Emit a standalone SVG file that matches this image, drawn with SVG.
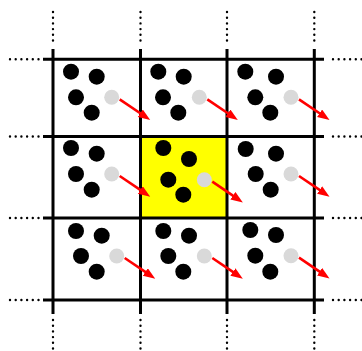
<svg xmlns="http://www.w3.org/2000/svg" width="362" height="351" viewBox="0 0 362 351">
<defs>
<style>
.grid{stroke:#000;stroke-width:3;fill:none}
.dots{stroke:#000;stroke-width:2.4;stroke-linecap:round;stroke-dasharray:0 5.7;fill:none}
.b{fill:#000}
.g{fill:#d9d9d9}
.arr{stroke:#ff0000;stroke-width:2.6;fill:none}
</style>
<marker id="ah" markerUnits="userSpaceOnUse" markerWidth="13" markerHeight="10" refX="4" refY="4.5" orient="auto">
<path d="M0,0 L12,4.5 L0,9 z" fill="#ff0000"/>
</marker>
</defs>
<rect width="362" height="351" fill="#fff"/>
<rect x="140.5" y="136.5" width="86.5" height="81.5" fill="#ffff00"/>
<g id="grid">
<path class="grid" d="M53,49V314M140.5,49V314M227,49V314M314.3,49V314M43,59.3H324M43,136.5H324M43,218H324M43,300H324"/>
<path class="dots" d="M53,12V42M140.5,12V42M227,12V42M314.3,12V42M53,320V350M140.5,320V350M227,320V350M314.3,320V350M10,59.3H39M10,136.5H39M10,218H39M10,300H39M333,59.3H362M333,136.5H362M333,218H362M333,300H362"/>
</g>
<g id="cell-tl"><circle class="b" cx="71" cy="71.7" r="8"/><circle class="b" cx="96.7" cy="76.7" r="8"/><circle class="b" cx="76" cy="97.3" r="8"/><circle class="b" cx="91.7" cy="112.7" r="8"/><circle class="g" cx="111.7" cy="97.3" r="7.5"/></g>
<g id="cell-tm"><circle class="b" cx="158.3" cy="71.7" r="8"/><circle class="b" cx="183.7" cy="76.7" r="8"/><circle class="b" cx="163" cy="97.3" r="8"/><circle class="b" cx="178.3" cy="112.7" r="8"/><circle class="g" cx="199.3" cy="97.3" r="7.5"/></g>
<g id="cell-tr"><circle class="b" cx="245.3" cy="71.7" r="8"/><circle class="b" cx="276" cy="76.7" r="8"/><circle class="b" cx="255.3" cy="97.3" r="8"/><circle class="b" cx="270.3" cy="112.7" r="8"/><circle class="g" cx="291" cy="97.3" r="7.5"/></g>
<g id="cell-ml"><circle class="b" cx="71" cy="148" r="8"/><circle class="b" cx="96.7" cy="153.7" r="8"/><circle class="b" cx="76" cy="174" r="8"/><circle class="b" cx="91.7" cy="189.7" r="8"/><circle class="g" cx="111.7" cy="174" r="7.5"/></g>
<g id="cell-mm"><circle class="b" cx="163.3" cy="148" r="8"/><circle class="b" cx="189" cy="159" r="8"/><circle class="b" cx="168.3" cy="179.7" r="8"/><circle class="b" cx="183.3" cy="194.7" r="8"/><circle class="g" cx="204.3" cy="179.7" r="7.5"/></g>
<g id="cell-mr"><circle class="b" cx="245.7" cy="149" r="8"/><circle class="b" cx="276" cy="153.7" r="8"/><circle class="b" cx="255.7" cy="174" r="8"/><circle class="b" cx="270.7" cy="189.7" r="8"/><circle class="g" cx="291" cy="174" r="7.5"/></g>
<g id="cell-bl"><circle class="b" cx="76" cy="231" r="8"/><circle class="b" cx="101.7" cy="235.7" r="8"/><circle class="b" cx="81" cy="256" r="8"/><circle class="b" cx="96.7" cy="271.7" r="8"/><circle class="g" cx="116.7" cy="256" r="7.5"/></g>
<g id="cell-bm"><circle class="b" cx="163.3" cy="231" r="8"/><circle class="b" cx="189" cy="235.7" r="8"/><circle class="b" cx="168.3" cy="256" r="8"/><circle class="b" cx="183.3" cy="271.7" r="8"/><circle class="g" cx="204.3" cy="256" r="7.5"/></g>
<g id="cell-br"><circle class="b" cx="250.3" cy="230" r="8"/><circle class="b" cx="276" cy="235" r="8"/><circle class="b" cx="255.3" cy="255.7" r="8"/><circle class="b" cx="270.3" cy="271.7" r="8"/><circle class="g" cx="291" cy="255.7" r="7.5"/></g>
<g id="connectors">
<line class="arr" marker-end="url(#ah)" x1="119.7" y1="99.3" x2="143.6" y2="115.5"/>
<line class="arr" marker-end="url(#ah)" x1="207.3" y1="99.3" x2="231.2" y2="115.5"/>
<line class="arr" marker-end="url(#ah)" x1="299" y1="99.3" x2="322.9" y2="115.5"/>
<line class="arr" marker-end="url(#ah)" x1="119.7" y1="176" x2="143.6" y2="192.2"/>
<line class="arr" marker-end="url(#ah)" x1="212.3" y1="181.7" x2="236.2" y2="197.9"/>
<line class="arr" marker-end="url(#ah)" x1="299" y1="176" x2="322.9" y2="192.2"/>
<line class="arr" marker-end="url(#ah)" x1="124.7" y1="258" x2="148.6" y2="274.2"/>
<line class="arr" marker-end="url(#ah)" x1="212.3" y1="258" x2="236.2" y2="274.2"/>
<line class="arr" marker-end="url(#ah)" x1="299" y1="257.7" x2="322.9" y2="273.9"/>
</g>
</svg>
